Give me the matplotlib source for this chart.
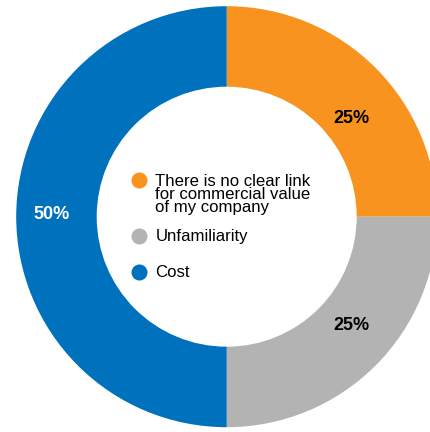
import numpy as np
import matplotlib
matplotlib.use("Agg")
import matplotlib.pyplot as plt

# ── Data ──────────────────────────────────────────────────────────────
categories = [
    "There is no clear link\nfor commercial value\nof my company",
    "Unfamiliarity",
    "Cost",
]
shares = [25, 25, 50]
colors = ["#F7931E", "#B3B3B3", "#0071BC"]
label_colors = ["black", "black", "white"]

# ── Layout (pixel units, origin bottom-left) ──────────────────────────
W, H = 430, 432
CX, CY = 226.7, H - 216.7
R_OUT, R_IN = 210.5, 130.0
# where each percentage sits: (angle in deg, distance from centre)
label_pos = [(38.4, 158.7), (-41.3, 165.5), (179.4, 174.7)]

plt.rcParams["font.family"] = ["Liberation Sans", "DejaVu Sans"]

fig = plt.figure(figsize=(W / 100, H / 100), dpi=100)
ax = fig.add_axes([0, 0, 1, 1])

ax.pie(shares, colors=colors, startangle=90, counterclock=False,
       center=(CX, CY), radius=R_OUT,
       wedgeprops=dict(width=R_OUT - R_IN, linewidth=0))

for val, col, (ang, dist) in zip(shares, label_colors, label_pos):
    a = np.radians(ang)
    ax.text(CX + dist * np.cos(a), CY + dist * np.sin(a), f"{val}%",
            ha="center", va="center", fontsize=13, fontweight="bold",
            color=col)

# legend inside the hole
legend_y = [H - 180, H - 236, H - 271.7]
for name, col, y in zip(categories, colors, legend_y):
    ax.scatter([139.3], [y], s=16 ** 2 * 0.52, color=col, linewidths=0)
    ax.text(155.3, y + 6.5, name, ha="left", va="top", fontsize=12.1,
            linespacing=0.86, color="black")

ax.set_xlim(0, W)
ax.set_ylim(0, H)
ax.set_aspect("equal")
ax.axis("off")

fig.savefig("out.png", dpi=100)
